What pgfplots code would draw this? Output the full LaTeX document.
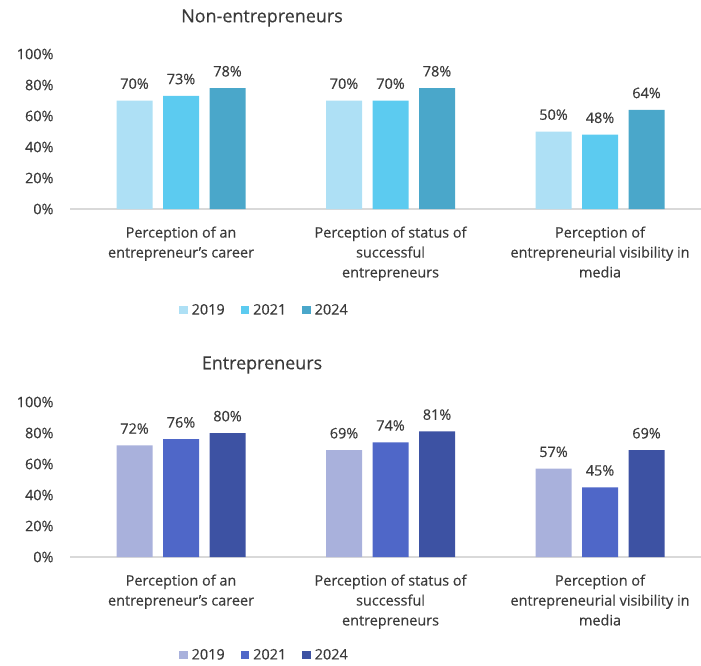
\documentclass[border=0pt]{standalone}
\usepackage{pgfplots}
\pgfplotsset{compat=1.18}
\usepackage{fontspec}
\setmainfont{Open Sans}[FakeBold=0.35,AutoFakeBold=0]

\definecolor{nA}{HTML}{AEE0F5}
\definecolor{nB}{HTML}{5CCBF0}
\definecolor{nC}{HTML}{4AA7CA}
\definecolor{eA}{HTML}{A9B1DC}
\definecolor{eB}{HTML}{4F67C8}
\definecolor{eC}{HTML}{3D52A3}
\definecolor{txt}{HTML}{3A3A3A}
\definecolor{axisgray}{HTML}{D9D9D9}

\pgfplotsset{
  percbars/.style={
    scale only axis, width=631bp, height=155bp,
    ybar=10.5bp, bar width=36bp,
    xmin=-0.53, xmax=2.482, ymin=0, ymax=100,
    xtick={0,1,2},
    xticklabels={{Perception of an\\entrepreneur's career},
                 {Perception of status of\\successful\\entrepreneurs},
                 {Perception of\\entrepreneurial visibility in\\media}},
    ytick={0,20,...,100},
    yticklabel={\pgfmathprintnumber{\tick}\%},
    /pgf/number format/assume math mode=true,
    axis x line*=bottom, axis y line*=left,
    y axis line style={draw=none},
    x axis line style={draw=axisgray, line width=1.2bp},
    major tick length=0pt,
    tick label style={font=\fontsize{14.5}{20}\selectfont, text=txt},
    xticklabel style={align=center, yshift=-14bp},
    yticklabel style={xshift=-13bp},
    nodes near coords={\pgfmathprintnumber{\pgfplotspointmeta}\%},
    every node near coord/.append style={font=\fontsize{14.5}{17}\selectfont, text=txt, yshift=8bp},
    clip=false,
    legend columns=3,
    legend style={draw=none, fill=none, inner sep=0pt,
      font=\fontsize{14.5}{17}\selectfont, text=txt,
      nodes={inner sep=1bp},
      /tikz/every odd column/.append style={column sep=3bp},
      /tikz/every even column/.append style={column sep=15bp}},
    legend image code/.code={\fill[##1] (0bp,-4.2bp) rectangle (8.5bp,4.2bp);},
  }
}

\begin{document}
\begin{tikzpicture}
\useasboundingbox (0,0) rectangle (701bp,-666bp);

% Non-entrepreneurs
\node[font=\fontsize{18}{20}\selectfont, text=txt] at (262bp,-18bp) {Non-entrepreneurs};
\begin{axis}[percbars, at={(70bp,-209bp)}, anchor=south west,
    legend style={at={(0.3074,-0.652)}, anchor=center}]
  \addplot[fill=nA, draw=none] coordinates {(0,70) (1,70) (2,50)};
  \addplot[fill=nB, draw=none] coordinates {(0,73) (1,70) (2,48)};
  \addplot[fill=nC, draw=none] coordinates {(0,78) (1,78) (2,64)};
  \legend{2019,2021,2024}
\end{axis}

% Entrepreneurs
\node[font=\fontsize{18}{20}\selectfont, text=txt] at (262bp,-365bp) {Entrepreneurs};
\begin{axis}[percbars, at={(70bp,-557bp)}, anchor=south west,
    legend style={at={(0.3074,-0.632)}, anchor=center}]
  \addplot[fill=eA, draw=none] coordinates {(0,72) (1,69) (2,57)};
  \addplot[fill=eB, draw=none] coordinates {(0,76) (1,74) (2,45)};
  \addplot[fill=eC, draw=none] coordinates {(0,80) (1,81) (2,69)};
  \legend{2019,2021,2024}
\end{axis}
\end{tikzpicture}
\end{document}
